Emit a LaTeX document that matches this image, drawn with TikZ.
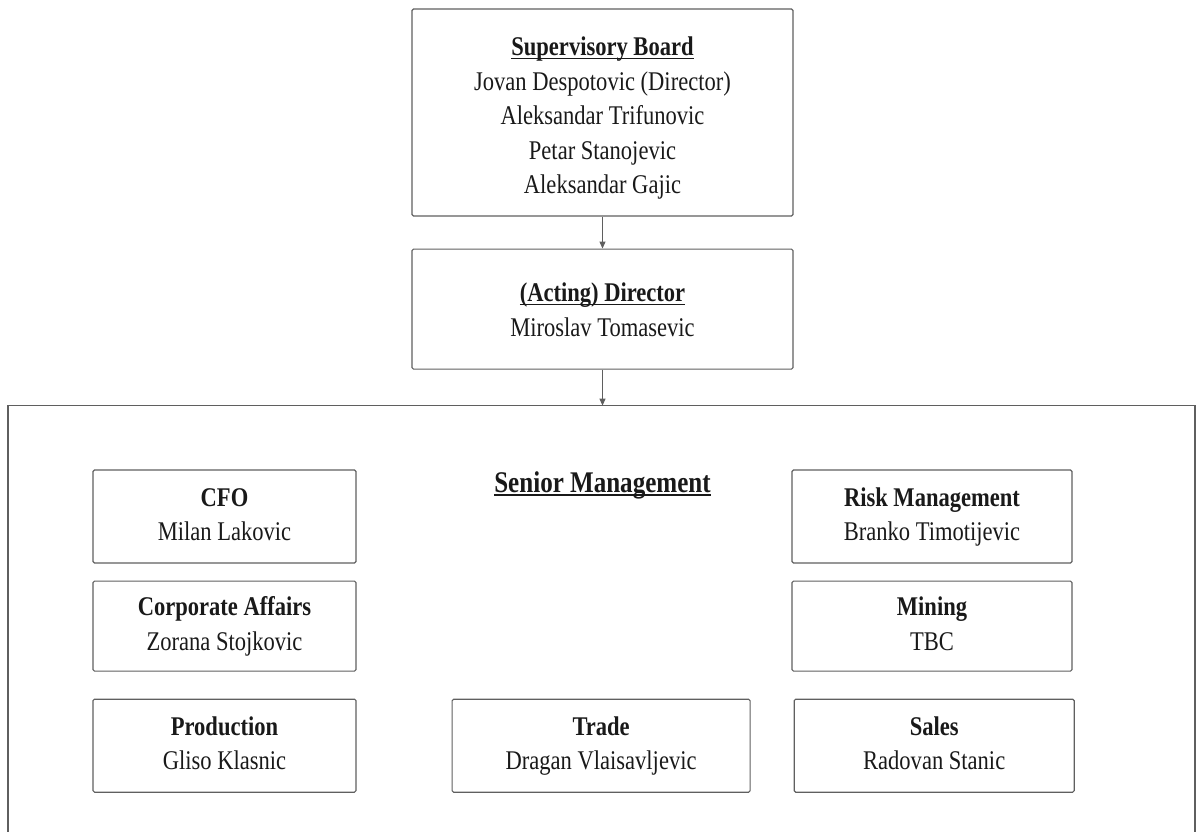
\documentclass[tikz,border=0pt]{standalone}
\usepackage{fontspec}
\setmainfont[FakeStretch=0.835]{Liberation Serif}
\usetikzlibrary{arrows.meta, positioning}
\definecolor{framegray}{RGB}{95, 95, 95}
\definecolor{textblack}{RGB}{25, 25, 25}
\newcommand{\ulbf}[1]{\setbox0\hbox{\textbf{#1}}\rlap{\rule[-3.5pt]{\wd0}{1.6pt}}\box0}
\newcommand{\post}[2]{\strut\textbf{#1}\\#2\strut}

\begin{document}
\begin{tikzpicture}[
    x=1pt, y=-1pt,
    node distance=17pt and 40pt,
    unit/.style={draw=framegray, line width=1.1pt, rounded corners=1.5pt, align=center,
                 inner sep=0pt, text=textblack, font=\fontsize{27}{34.5}\selectfont},
    topbox/.style={unit, minimum width=381pt},
    dept/.style={unit, minimum width=263pt, minimum height=93pt},
    arrow/.style={-{Triangle[length=7pt, width=6pt]}, line width=1pt, framegray}
]
    \useasboundingbox (0,0) rectangle (1197,832);

    % board and director
    \node[topbox, minimum height=207pt] (board) at (602.5,112.5)
        {\rule{0pt}{35pt}\ulbf{Supervisory Board}\\Jovan Despotovic (Director)\\Aleksandar Trifunovic\\Petar Stanojevic\\Aleksandar Gajic\strut};
    \node[topbox, minimum height=120pt, below=32pt of board] (director)
        {\rule{0pt}{30pt}\ulbf{(Acting) Director}\\Miroslav Tomasevic\strut};
    \coordinate[below=36pt of director] (seniortop);

    % senior management frame
    \draw[framegray, line width=1.1pt] (8,850) |- (seniortop) -| (1195,850);
    \node[text=textblack, font=\fontsize{30}{34}\selectfont] (seniortitle) at (602.5,485)
        {\ulbf{Senior Management}};

    \node[dept] (cfo) at (224.5,516.5) {\post{CFO}{Milan Lakovic}};
    \node[dept, minimum height=90pt, below=of cfo] (affairs) {\post{Corporate Affairs}{Zorana Stojkovic}};
    \node[dept, below=27pt of affairs] (production) {\post{Production}{Gliso Klasnic}};
    \node[dept, minimum width=298pt, right=95pt of production] (trade) {\post{Trade}{Dragan Vlaisavljevic}};
    \node[dept, minimum width=280pt, right=43pt of trade] (sales) {\post{Sales}{Radovan Stanic}};
    \node[dept, minimum width=280pt] (risk) at (932,516.5) {\post{Risk Management}{Branko Timotijevic}};
    \node[dept, minimum width=280pt, minimum height=90pt, below=of risk] (mining) {\post{Mining}{TBC}};

    \draw[arrow] (board) -- (director);
    \draw[arrow] (director) -- (seniortop);
\end{tikzpicture}
\end{document}
